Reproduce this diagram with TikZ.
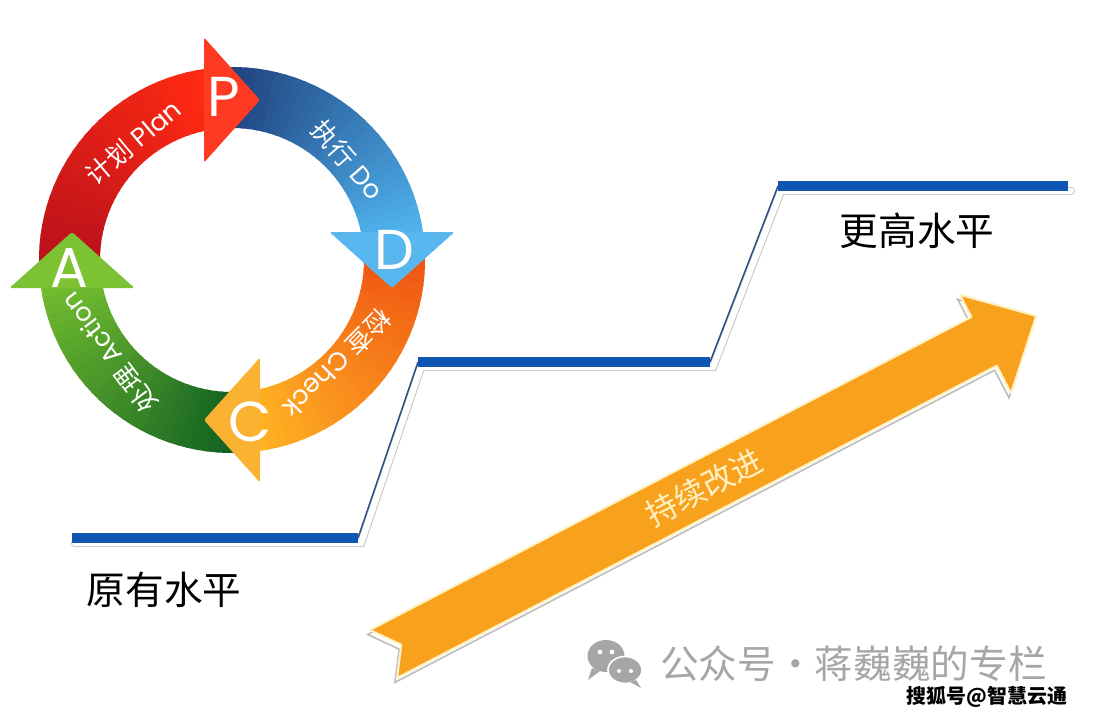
\documentclass[tikz,border=0pt]{standalone}
\usepackage{fontspec}
\setmainfont{Noto Sans CJK SC}
\newfontfamily\latfont{Poppins}
\usepackage{tikz}
\usetikzlibrary{positioning}
\usepackage{xcolor}
\definecolor{pdRed}{HTML}{FF2A12}
\definecolor{pdRedDk}{HTML}{B5101C}
\definecolor{pdRedHd}{HTML}{FF3A22}
\definecolor{pdBlue}{HTML}{4FB2EC}
\definecolor{pdBlueDk}{HTML}{1B3A78}
\definecolor{pdBlueHd}{HTML}{58B7EE}
\definecolor{pdOrg}{HTML}{FFB222}
\definecolor{pdOrgDk}{HTML}{EE4E12}
\definecolor{pdOrgHd}{HTML}{F9B232}
\definecolor{pdGrn}{HTML}{70BB2E}
\definecolor{pdGrnDk}{HTML}{0B5A22}
\definecolor{pdGrnHd}{HTML}{7CC232}
\definecolor{lvBlue}{HTML}{0E56B2}
\definecolor{lvSlant}{HTML}{2C4F86}
\definecolor{upOrg}{HTML}{F8A11C}
\definecolor{upText}{HTML}{FFF1C4}
\definecolor{wmGray}{HTML}{A6A6A6}

\begin{document}
\begin{tikzpicture}[
      x=0.3mm, y=0.3mm,
      letter/.style={text=white, inner sep=0pt, font=\latfont\fontsize{48}{48}\selectfont},
      ringlbl/.style={text=white, inner sep=0pt, font=\fontsize{22}{22}\selectfont},
      lvl/.style={text=black, inner sep=0pt, font=\fontsize{33}{33}\selectfont},
      % escalones: sombra blanca con borde gris, barras azules
      lvshadow/.style={draw=gray!45, line width=2.5mm, line cap=round, line join=miter},
      lvshadowin/.style={draw=white, line width=1.9mm, line cap=round, line join=miter},
      lvbar/.style={draw=lvBlue, line width=3.2mm},
      lvslant/.style={draw=lvSlant, line width=0.45mm},
      wm/.style={text=wmGray, inner sep=0pt, anchor=west, font=\fontsize{33}{33}\selectfont},
      wmb/.style={text=black, inner sep=0pt, font=\bfseries\fontsize{17}{17}\selectfont},
    ]

    \useasboundingbox (0,0) rectangle (1102,-722);
    \fill[white] (0,0) rectangle (1102,-722);

    % ---------- escalones: nivel original -> nivel superior ----------
    \coordinate (s0) at (72,-538);
    \coordinate (s1) at (358,-538);
    \coordinate (s2) at (418,-362);
    \coordinate (s3) at (710,-362);
    \coordinate (s4) at (778,-186);
    \coordinate (s5) at (1068,-186);

    \begin{scope}[transform canvas={shift={(3,-5)}}]
      \draw[lvshadow]   (s0) -- (s1) -- (s2) -- (s3) -- (s4) -- (s5);
      \draw[lvshadowin] (s0) -- (s1) -- (s2) -- (s3) -- (s4) -- (s5);
    \end{scope}
    \draw[lvslant] (s1) -- (s2);
    \draw[lvslant] (s3) -- (s4);
    \draw[lvbar] (s0) -- (s1);
    \draw[lvbar] (s2) -- (s3);
    \draw[lvbar] (s4) -- (s5);

    \node[lvl] (low)  at (164,-590) {原有水平};
    \node[lvl] (high) at (917,-231) {更高水平};

    % ---------- flecha de mejora continua ----------
    \begin{scope}[shift={(370,-630)}, rotate=27.5]
      \draw[gray!50, line width=0.5mm, shift={(-4,-3)}]
        (0,0) -- (678,0) -- (678,25) -- (736,-29) -- (678,-86) -- (678,-55)
        -- (2,-55) -- (21,-27.5) -- cycle;
      \fill[upOrg, draw=upText, line width=0.6mm, line join=round]
        (0,0) -- (678,0) -- (678,25) -- (736,-29) -- (678,-86) -- (678,-55)
        -- (2,-55) -- (21,-27.5) -- cycle;
      \node[text=upText, rotate=27.5, inner sep=0pt, font=\fontsize{27}{27}\selectfont]
        (mejora) at (362,-27.5) {持续改进};
    \end{scope}

    % ================= ciclo PDCA =================
    \begin{scope}[shift={(232,-260)}]
      % anillo: cuatro tramos con degradado
      \foreach \a/\b/\ca/\cb in {188/98/pdRedDk/pdRed, 98/8/pdBlueDk/pdBlue,
                                 8/-82/pdOrgDk/pdOrg, -82/-172/pdGrnDk/pdGrn}{
        \foreach \i in {0,...,29}{
          \pgfmathsetmacro\sa{\a+(\b-\a)*\i/30}
          \pgfmathsetmacro\sb{\a+(\b-\a)*(\i+1.3)/30}
          \pgfmathtruncatemacro\p{100*\i/29}
          \fill[\cb!\p!\ca] (\sa:132) arc[start angle=\sa, end angle=\sb, radius=132]
            -- (\sb:193) arc[start angle=\sb, end angle=\sa, radius=193] -- cycle;
        }
      }

      % puntas de flecha
      \foreach \r/\col in {0/pdRedHd, -90/pdBlueHd, -180/pdOrgHd, -270/pdGrnHd}
        \fill[\col, rounded corners=2pt, rotate=\r] (-28,97.5) -- (-28,222.5) -- (28,160) -- cycle;

      \foreach \ang/\lt in {93/P, 3.5/D, -83.5/C, 182.8/A}
        \node[letter] (l\lt) at (\ang:163) {\lt};

      \node[ringlbl, rotate=40]     (plan)  at (130:154)   {计划\hspace{0.3em}{\latfont Plan}};
      \node[ringlbl, rotate=-49]    (do)    at (41:153)    {执行\hspace{0.3em}{\latfont Do}};
      \node[ringlbl, rotate=-134.5] (check) at (-44.5:148) {检查\hspace{0.3em}{\latfont Check}};
      \node[ringlbl, rotate=127]    (act)   at (217:154)   {处理\hspace{0.3em}{\latfont Action}};
    \end{scope}

    % ---------- marcas de agua ----------
    \fill[wmGray] (606,-656) ellipse[x radius=18.5, y radius=16];
    \fill[wmGray] (592,-668) -- (588,-680) -- (600,-671) -- cycle;
    \fill[wmGray, draw=white, line width=0.5mm] (625,-670) ellipse[x radius=17, y radius=13.5];
    \fill[wmGray] (636,-680) -- (641,-688) -- (630,-682) -- cycle;
    \foreach \ex/\ey/\er in {600/652/2.4, 612/652/2.4, 619/671/2, 631/671/2}
      \fill[white] (\ex,-\ey) circle[radius=\er];
    \node[wm]  (wmA) at (660,-664) {公众号·蒋巍巍的专栏};
    \node[wmb] (wmB) at (987,-697) {搜狐号@智慧云通};

  \end{tikzpicture}
\end{document}
